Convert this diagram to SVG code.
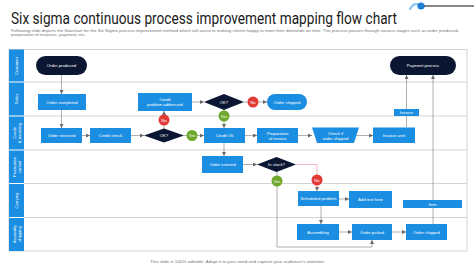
<svg xmlns="http://www.w3.org/2000/svg" width="474" height="266" viewBox="0 0 474 266">
<style>
.t{font-family:"Liberation Sans",Arial,sans-serif;fill:#fff;font-size:4.2px;text-anchor:middle;dominant-baseline:central}
.b{fill:#1b8ee2}
.n{fill:#0b1633}
.lane{fill:#1b8ee2}
.ln{stroke:#d4d4d4;stroke-width:1;fill:none}
.c{stroke:#7a7a7a;stroke-width:0.6;fill:none;marker-end:url(#a)}
.cp{stroke:#e88a9a;stroke-width:0.6;fill:none;marker-end:url(#a)}
.no{fill:#e23b36}
.yes{fill:#6ea82c}
.s{font-family:"Liberation Sans",Arial,sans-serif;fill:#777;font-size:3.4px}
</style>
<defs>
<marker id="a" viewBox="0 0 6 6" refX="6" refY="3" markerWidth="4" markerHeight="4" orient="auto" markerUnits="userSpaceOnUse">
<path d="M0,0 L6,3 L0,6 Z" fill="#6a6a6a"/>
</marker>
</defs>
<rect width="474" height="266" fill="#fff"/>
<g id="header">
<text x="11" y="24" font-family="Roboto,'Liberation Sans',sans-serif" font-size="16" fill="#1a1a1a" textLength="386" lengthAdjust="spacingAndGlyphs">Six sigma continuous process improvement mapping flow chart</text>
<text class="s" x="11" y="32" textLength="448" lengthAdjust="spacingAndGlyphs">Following slide depicts the flowchart for the Six Sigma process improvement method which will assist in making clients happy to meet their demands on time. The process passes through various stages such as order produced,</text>
<text class="s" x="11" y="35.8" textLength="75" lengthAdjust="spacingAndGlyphs">preparation of invoices, payment, etc.</text>
<path d="M410,9 Q414,2 420,5" stroke="#8ec5f0" stroke-width="2.2" fill="none" stroke-linecap="round"/>
<circle cx="421" cy="6" r="3.6" fill="#1b7fd6"/>
<line x1="424" y1="6" x2="474" y2="6" stroke="#111" stroke-width="1"/>
</g>
<g id="lanes">
<rect x="9" y="49.5" width="458" height="201.5" fill="none" stroke="#d4d4d4" stroke-width="1"/>
<line class="ln" x1="24" y1="82" x2="467" y2="82"/>
<line class="ln" x1="24" y1="116" x2="467" y2="116"/>
<line class="ln" x1="24" y1="150" x2="467" y2="150"/>
<line class="ln" x1="24" y1="183.5" x2="467" y2="183.5"/>
<line class="ln" x1="24" y1="217.5" x2="467" y2="217.5"/>
<rect class="lane" x="9" y="49.5" width="15" height="32"/>
<rect class="lane" x="9" y="82.5" width="15" height="33"/>
<rect class="lane" x="9" y="116.5" width="15" height="33"/>
<rect class="lane" x="9" y="150.5" width="15" height="32.5"/>
<rect class="lane" x="9" y="184" width="15" height="33"/>
<rect class="lane" x="9" y="218" width="15" height="33"/>
<text class="t" transform="translate(16.5,66) rotate(-90)">Customer</text>
<text class="t" transform="translate(16.5,99) rotate(-90)">Sales</text>
<text class="t" transform="translate(14.5,133) rotate(-90)">Credit</text>
<text class="t" transform="translate(19,133) rotate(-90)">&amp; invoicing</text>
<text class="t" transform="translate(14.5,167) rotate(-90)">Production</text>
<text class="t" transform="translate(19,167) rotate(-90)">control</text>
<text class="t" transform="translate(16.5,200.5) rotate(-90)">Carrying</text>
<text class="t" transform="translate(14.5,234) rotate(-90)">Assembly</text>
<text class="t" transform="translate(19,234) rotate(-90)">shipping</text>
</g>
<g id="connectors">
<path class="c" d="M61.5,75 V94"/>
<path class="c" d="M61.5,110 V128"/>
<path class="c" d="M82,135.5 H90"/>
<path class="c" d="M131,135.5 H144"/>
<path class="c" d="M164,129 V111"/>
<path class="c" d="M184,135.5 H204"/>
<path class="c" d="M192,102 H204"/>
<path class="c" d="M244,102 H267"/>
<path class="c" d="M224,110 V128"/>
<path class="c" d="M245,135.5 H257"/>
<path class="c" d="M298,135.5 H312"/>
<path class="c" d="M356,135.5 H373"/>
<path class="c" d="M406.5,127 V75"/>
<path class="c" d="M433,224 V75"/>
<path class="c" d="M224,143 V156"/>
<path class="c" d="M243,164.5 H257"/>
<path class="cp" d="M296,164.5 H317 V191"/>
<path class="c" d="M277,172 V247 H372 V240"/>
<path class="c" d="M339,199 H349"/>
<path class="c" d="M321,206 V224"/>
<path class="c" d="M339,232 H352"/>
<path class="c" d="M392,232 H406"/>
</g>
<g id="order-produced"><rect class="n" x="36" y="56" width="51" height="19" rx="9.5"/><text class="t" x="61.5" y="65.5">Order produced</text></g>
<g id="payment-process"><rect class="n" x="390" y="56" width="66" height="19" rx="9.5"/><text class="t" x="423" y="65.5">Payment process</text></g>
<g id="order-completed"><rect class="b" x="38" y="94" width="48" height="16"/><text class="t" x="62" y="102">Order completed</text></g>
<g id="credit-problem"><rect class="b" x="138" y="93" width="54" height="18"/><text class="t" x="165" y="99.5">Credit</text><text class="t" x="165" y="104.5">problem addressed</text></g>
<g id="ok-sales"><path class="n" d="M204,102 L224,94 L244,102 L224,110 Z"/><text class="t" x="224" y="102">OK?</text></g>
<g id="no-sales"><circle class="no" cx="253" cy="102" r="5.5"/><text class="t" x="253" y="102" font-size="3.4">No</text></g>
<g id="order-shipped-sales"><rect class="b" x="267" y="94" width="40" height="16" rx="8"/><text class="t" x="287" y="102">Order shipped</text></g>
<g id="invoice"><rect class="b" x="394" y="109" width="25" height="7"/><text class="t" x="406.5" y="112.5" font-size="3.4">Invoice</text></g>
<g id="yes-sales"><circle class="yes" cx="224" cy="116" r="5.5"/><text class="t" x="224" y="116" font-size="3.4">Yes</text></g>
<g id="no-credit"><circle class="no" cx="164" cy="120" r="5.5"/><text class="t" x="164" y="120" font-size="3.4">No</text></g>
<g id="order-received"><rect class="b" x="41" y="128" width="41" height="15"/><text class="t" x="61.5" y="135.5">Order received</text></g>
<g id="credit-check"><rect class="b" x="90" y="128" width="41" height="15"/><text class="t" x="110.5" y="135.5">Credit check</text></g>
<g id="ok-credit"><path class="n" d="M144,135.5 L164,128.5 L184,135.5 L164,142.5 Z"/><text class="t" x="164" y="135.5">OK?</text></g>
<g id="yes-credit"><circle class="yes" cx="192" cy="135.5" r="5.5"/><text class="t" x="192" y="135.5" font-size="3.4">Yes</text></g>
<g id="credit-ok"><rect class="b" x="204" y="128" width="41" height="15"/><text class="t" x="224.5" y="135.5">Credit Ok</text></g>
<g id="preparation"><rect class="b" x="257" y="128" width="41" height="15"/><text class="t" x="277.5" y="133">Preparation</text><text class="t" x="277.5" y="138">of invoice</text></g>
<g id="check-shipped"><path class="b" d="M312,127.5 H359 L354,143 H317 Z"/><text class="t" x="335.5" y="133">Check if</text><text class="t" x="335.5" y="138">order shipped</text></g>
<g id="invoice-sent"><rect class="b" x="373" y="127.5" width="42" height="15.5"/><text class="t" x="394" y="135.5">Invoice sent</text></g>
<g id="order-entered"><rect class="b" x="202" y="156" width="41" height="17"/><text class="t" x="222.5" y="164.5">Order entered</text></g>
<g id="in-stock"><path class="n" d="M257,164.5 L276.5,157 L296,164.5 L276.5,172 Z"/><text class="t" x="276.5" y="164.5">In stock?</text></g>
<g id="yes-stock"><circle class="yes" cx="277" cy="181" r="5.5"/><text class="t" x="277" y="181" font-size="3.4">Yes</text></g>
<g id="no-stock"><circle class="no" cx="317" cy="180" r="5.5"/><text class="t" x="317" y="180" font-size="3.4">No</text></g>
<g id="scheduled-problem"><rect class="b" x="298" y="191" width="41" height="15"/><text class="t" x="318.5" y="198.5">Scheduled problem</text></g>
<g id="add-text"><rect class="b" x="349" y="191" width="43" height="17"/><text class="t" x="370.5" y="199.5">Add text here</text></g>
<g id="item"><rect class="b" x="403" y="200" width="59" height="8"/><text class="t" x="432.5" y="204">Item</text></g>
<g id="assembling"><rect class="b" x="297" y="224" width="42" height="16"/><text class="t" x="318" y="232">Assembling</text></g>
<g id="order-picked"><rect class="b" x="352" y="224" width="40" height="16"/><text class="t" x="372" y="232">Order picked</text></g>
<g id="order-shipped-asm"><rect class="b" x="406" y="224" width="41" height="16"/><text class="t" x="426.5" y="232">Order shipped</text></g>
<g id="footer"><text class="s" x="150" y="263" font-size="3.8" textLength="175" lengthAdjust="spacingAndGlyphs">This slide is 100% editable. Adapt it to your need and capture your audience's attention.</text></g>
</svg>
